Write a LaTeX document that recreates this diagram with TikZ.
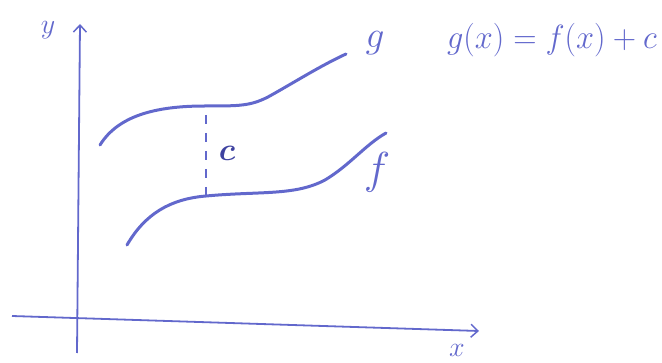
\documentclass[tikz,border=0pt]{standalone}
\usepackage{amsmath}
\usepackage{bm}
\usetikzlibrary{arrows.meta}
\definecolor{ink}{RGB}{98,104,204}
\definecolor{inkdark}{RGB}{62,66,160}
\begin{document}
\begin{tikzpicture}[x=1pt,y=-1pt,
  axis/.style={ink,line width=1.8pt,-{Straight Barb[length=7pt,width=13pt,line width=1.5pt]}},
  curve/.style={ink,line width=3pt,line cap=round},
  lbl/.style={ink,inner sep=0pt,transform shape}]
\useasboundingbox (0,0) rectangle (662,363);
\coordinate (yb) at (77,353);
\coordinate (yt) at (80,24);
\coordinate (xl) at (12,316);
\coordinate (xr) at (479,331);
\draw[axis] (yb) -- (yt);
\draw[axis] (xl) -- (xr);
\draw[curve] (100,145) .. controls (118,116) and (155,106) .. (205,106)
  .. controls (240,106) and (250,106) .. (268,97)
  .. controls (295,82) and (320,66) .. (346,54);
\draw[curve] (127,245) .. controls (145,214) and (170,199) .. (206,196)
  .. controls (260,191) and (295,196) .. (325,180)
  .. controls (350,165) and (365,145) .. (386,133);
\coordinate (ct) at (206,115);
\coordinate (cb) at (206,196);
\draw[ink,line width=1.2pt,dash pattern=on 9pt off 9pt] (ct) -- (cb);
\node[lbl,text=inkdark,scale=3.2] (c) at (227,153) {$\bm{c}$};
\node[lbl,font=\fontsize{24}{26}\selectfont,scale=1.8] (f) at (377,172) {$f$};
\node[lbl,font=\fontsize{24}{26}\selectfont,scale=1.5] (g) at (375,43) {$g$};
\node[lbl,font=\fontsize{20}{22}\selectfont,scale=1.35] (y) at (48,30) {$y$};
\node[lbl,font=\fontsize{20}{22}\selectfont,scale=1.35] (x) at (457,350) {$x$};
\node[lbl,font=\fontsize{28}{30}\selectfont,xscale=1.3,yscale=1.35] (eq) at (552,40) {$g(x)=f(x)+c$};
\end{tikzpicture}
\end{document}
